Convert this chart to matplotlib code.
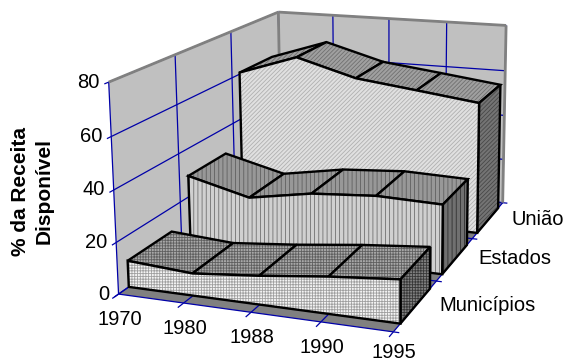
import matplotlib
matplotlib.use("Agg")
import matplotlib.pyplot as plt
from matplotlib.patches import Polygon
import numpy as np

years = ["1970", "1980", "1988", "1990", "1995"]
series = ["Municípios", "Estados", "União"]
y_ticks = [0, 20, 40, 60, 80]

municipios = [10.3, 8.6, 11, 14, 16.3]
estados = [28.7, 22.3, 26.7, 28.5, 27.8]
uniao = [60.7, 69.2, 62, 58.8, 55.5]

plt.rcParams["font.family"] = ["Liberation Sans", "DejaVu Sans"]
plt.rcParams["hatch.linewidth"] = 0.6

# box corners on the picture, used to fit the camera
# (year position 0-1, depth 0-1, value 0-80) -> pixel
calib = [
    (0, 0, 0, 118, 294), (.25, 0, 0, 183, 303), (.5, 0, 0, 251, 313), (.75, 0, 0, 321, 322), (1, 0, 0, 393, 332),
    (1, 1/3, 0, 437, 280), (1, 2/3, 0, 473, 238), (1, 1, 0, 502, 203), (0, 1, 0, 283, 180),
    (0, 0, 20, 115, 242), (0, 0, 40, 114, 190), (0, 0, 60, 112, 137), (0, 0, 80, 110, 82),
    (0, 1/3, 80, 175, 55), (0, 2/3, 80, 230, 32), (0, 1, 80, 278, 12),
    (.25, 1, 80, 332, 15), (.5, 1, 80, 389, 18), (.75, 1, 80, 447, 22), (1, 1, 80, 507, 25),
    (1, 1, 60, 505, 71), (1, 1, 40, 504, 116), (1, 1, 20, 503, 160),
]
A = []
for u, v, w, px, py in calib:
    w = w / 80
    A.append([u, v, w, 1, 0, 0, 0, 0, -px*u, -px*v, -px*w, -px])
    A.append([0, 0, 0, 0, u, v, w, 1, -py*u, -py*v, -py*w, -py])
P = np.linalg.svd(np.array(A))[2][-1].reshape(3, 4)


def project(u, v, val):
    p = P @ np.array([u, v, val / 80, 1.0])
    return p[0] / p[2], p[1] / p[2]


fig = plt.figure(figsize=(5.66, 3.64), dpi=100)
ax = fig.add_axes([0, 0, 1, 1])
ax.set_xlim(0, 566)
ax.set_ylim(364, 0)
ax.axis("off")

z = [1]


def poly(points, face, hatch=None, hatch_color="black", edge="none", lw=0):
    pts = [project(*p) for p in points]
    z[0] += 1
    if hatch:
        ax.add_patch(Polygon(pts, closed=True, facecolor=face, edgecolor=hatch_color, hatch=hatch, lw=0, zorder=z[0]))
    else:
        ax.add_patch(Polygon(pts, closed=True, facecolor=face, edgecolor="none", zorder=z[0]))
    if lw:
        z[0] += 1
        ax.add_patch(Polygon(pts, closed=True, facecolor="none", edgecolor=edge, lw=lw, joinstyle="miter", zorder=z[0]))


def line(a, b, color, lw):
    pa, pb = project(*a), project(*b)
    z[0] += 1
    ax.plot([pa[0], pb[0]], [pa[1], pb[1]], color=color, lw=lw, zorder=z[0], solid_capstyle="butt")


blue = "#0000a8"
wall_gray = "#c0c0c0"
dark_gray = "#808080"

# walls and floor
poly([(0, 0, 0), (0, 1, 0), (0, 1, 80), (0, 0, 80)], wall_gray)
poly([(0, 1, 0), (1, 1, 0), (1, 1, 80), (0, 1, 80)], wall_gray)
poly([(0, 0, 0), (1, 0, 0), (1, 1, 0), (0, 1, 0)], dark_gray)

# gridlines
for val in y_ticks:
    line((0, 0, val), (0, 1, val), blue, 0.9)
    line((0, 1, val), (1, 1, val), blue, 0.9)
    line((0, 0, val), (0, -0.02, val), blue, 0.9)
for i in range(5):
    u = i / 4
    line((u, 0, 0), (u, 1, 0), blue, 0.9)
    line((u, 1, 0), (u, 1, 80), blue, 0.9)
    line((u, 0, 0), (u, -0.03, 0), blue, 0.9)
for i in range(4):
    v = i / 3
    line((0, v, 0), (1, v, 0), blue, 0.9)
    line((0, v, 0), (0, v, 80), blue, 0.9)
    line((1, v, 0), (1.02, v, 0), blue, 0.9)

line((0, 1, 0), (0, 1, 80), dark_gray, 2)
line((0, 0, 80), (0, 1, 80), dark_gray, 2)
line((0, 1, 80), (1, 1, 80), dark_gray, 2)
line((1, 1, 80), (1, 1, 0), dark_gray, 2)

# ribbons, back one first
styles = [
    (uniao, 2, "#e0e0e0", "////////", "#b0b0b0", "#a0a0a0", "////////", "#707070", "#747474", "////////", "#484848"),
    (estados, 1, "#d0d0d0", "||||", "#707070", "#989898", "||||", "#606060", "#707070", "||||", "#303030"),
    (municipios, 0, "#f4f4f4", "++++++", "#a0a0a0", "#a8a8a8", "++++++", "#606060", "#808080", "++++++", "#383838"),
]
for vals, k, ff, fh, fc, tf, th, tc, sf, sh, sc in styles:
    v0 = k / 3 + 0.05
    v1 = k / 3 + 0.28
    for i in range(4):
        u0, u1 = i / 4, (i + 1) / 4
        poly([(u0, v0, vals[i]), (u1, v0, vals[i + 1]), (u1, v1, vals[i + 1]), (u0, v1, vals[i])],
             tf, th, tc, "black", 1.7)
    poly([(1, v0, 0), (1, v1, 0), (1, v1, vals[-1]), (1, v0, vals[-1])], sf, sh, sc, "black", 1.7)
    front = [(0, v0, 0), (1, v0, 0)] + [(i / 4, v0, vals[i]) for i in range(4, -1, -1)]
    poly(front, ff, fh, fc, "black", 1.7)

# labels
fs = 14.5
for val in y_ticks:
    x, y = project(0, 0, val)
    ax.text(x - 9, y, str(val), ha="right", va="center", fontsize=fs, color="black")
for i, year in enumerate(years):
    x, y = project(i / 4, 0, 0)
    # keep the last one inside the picture
    ax.text(x + 1, min(y + 31, 358), year, ha="center", va="baseline", fontsize=fs, color="black")
for k, name in enumerate(series):
    x, y = project(1, k / 3 + 1 / 6, 0)
    ax.text(x + 23, y, name, ha="left", va="center", fontsize=fs, color="black")
ax.text(32, 191, "% da Receita\nDisponível", rotation=90, ha="center", va="center", ma="center", fontsize=15,
        fontweight="bold", linespacing=1.3)

fig.savefig("out.png", dpi=100)
